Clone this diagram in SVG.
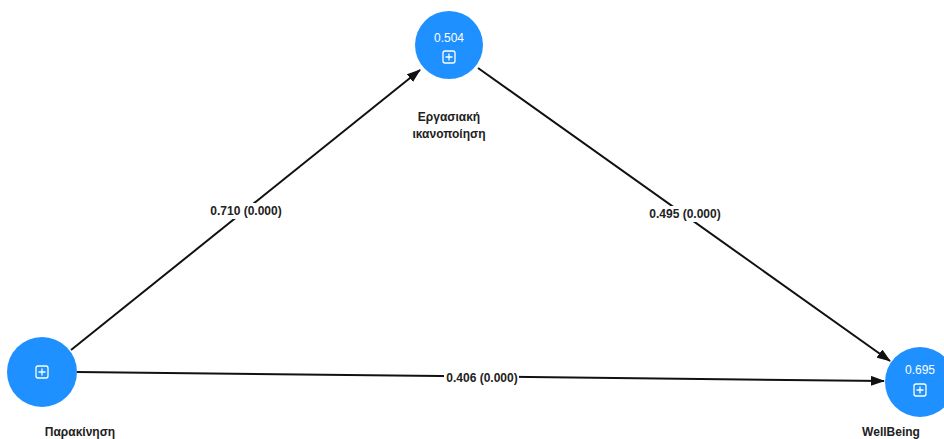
<svg xmlns="http://www.w3.org/2000/svg" width="944" height="439" viewBox="0 0 944 439">
<style>
.node{fill:#1e90ff}
.val{font-family:"Liberation Sans",Arial,sans-serif;font-size:12px;fill:#fff;text-anchor:middle}
.lbl{font-family:"Liberation Sans",Arial,sans-serif;font-size:12px;font-weight:bold;fill:#222;text-anchor:middle}
.el{font-family:"Liberation Sans",Arial,sans-serif;font-size:12px;font-weight:bold;fill:#222;text-anchor:middle}
.edge{stroke:#111;stroke-width:2;fill:none;marker-end:url(#ah)}
.icon{fill:none;stroke:#fff;stroke-width:1.3}
</style>
<defs>
<marker id="ah" viewBox="0 0 14 10" refX="13" refY="5" markerWidth="7" markerHeight="5" orient="auto" markerUnits="strokeWidth">
<path d="M0,0 L14,5 L0,10 z" fill="#111"/>
</marker>
<g id="plus"><rect class="icon" x="-6" y="-6" width="12" height="12" rx="2"/><path class="icon" d="M-3.5,0 H3.5 M0,-3.5 V3.5"/></g>
</defs>
<rect width="944" height="439" fill="#fff"/>
<g id="connectors">
<line class="edge" x1="71" y1="350" x2="420" y2="70"/>
<line class="edge" x1="478" y1="68" x2="890" y2="361"/>
<line class="edge" x1="77" y1="372" x2="884" y2="381"/>
<rect x="209" y="203" width="75" height="16" fill="#fff"/>
<text class="el" x="246" y="215">0.710 (0.000)</text>
<rect x="648" y="206" width="75" height="16" fill="#fff"/>
<text class="el" x="685" y="218">0.495 (0.000)</text>
<rect x="444" y="370" width="75" height="16" fill="#fff"/>
<text class="el" x="482" y="382">0.406 (0.000)</text>
</g>
<g id="node-ergasiaki">
<circle class="node" cx="449" cy="45" r="34"/>
<text class="val" x="449" y="42">0.504</text>
<use href="#plus" x="449" y="57"/>
<text class="lbl" x="449" y="121">Εργασιακή</text>
<text class="lbl" x="449" y="138">ικανοποίηση</text>
</g>
<g id="node-parakinisi">
<circle class="node" cx="42" cy="372" r="35"/>
<use href="#plus" x="42" y="372"/>
<text class="lbl" x="80" y="436">Παρακίνηση</text>
</g>
<g id="node-wellbeing">
<circle class="node" cx="920" cy="382" r="35"/>
<text class="val" x="920" y="374">0.695</text>
<use href="#plus" x="920" y="390"/>
<text class="lbl" x="891" y="436">WellBeing</text>
</g>
</svg>
